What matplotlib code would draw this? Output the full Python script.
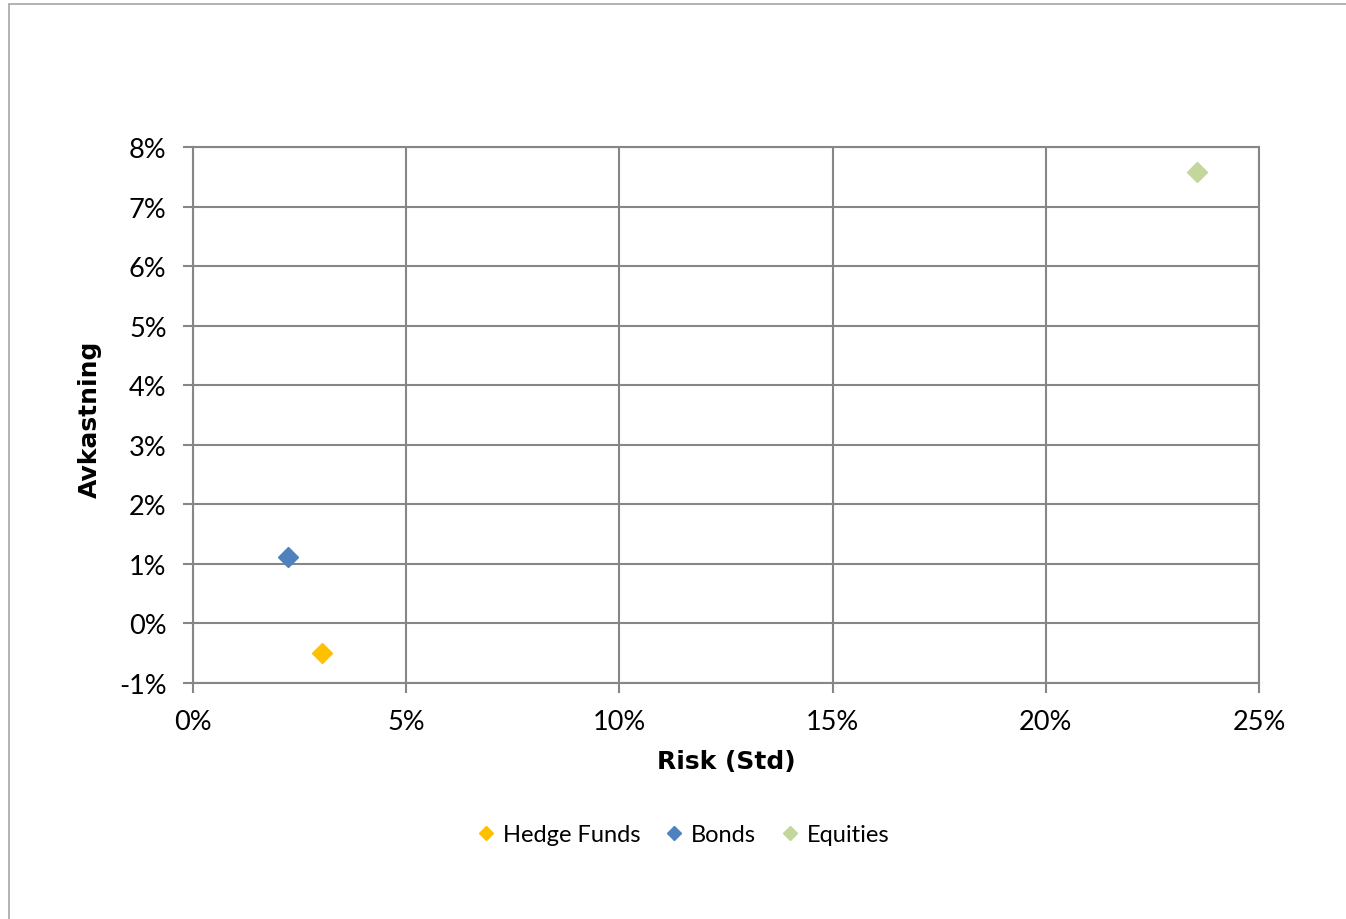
import matplotlib
matplotlib.use('Agg')
import matplotlib.pyplot as plt
from matplotlib.patches import Rectangle
from matplotlib.ticker import FuncFormatter, MultipleLocator

# risk / return per asset class (percent)
names = ['Hedge Funds', 'Bonds', 'Equities']
risk = [3.03, 2.23, 23.55]
ret = [-0.50, 1.12, 7.58]
colors = ['#FFC000', '#4F81BD', '#C3D69B']

plt.rcParams['font.family'] = ['Lato', 'DejaVu Sans']

W, H = 1346, 920
fig = plt.figure(figsize=(W / 100, H / 100), dpi=100)
# outer chart frame
fig.patches.append(Rectangle((9 / W, -0.1), 1.2, 1 - 5 / H + 0.1,
                             transform=fig.transFigure, fill=False,
                             edgecolor='#A6A6A6', linewidth=1.2))

ax = fig.add_axes([193 / W, 1 - 684 / H, (1259 - 193) / W, (684 - 148) / H])

for n, x, y, c in zip(names, risk, ret, colors):
    ax.plot([x], [y], linestyle='none', marker='D', markersize=10.5,
            color=c, label=n, zorder=3)

ax.set_xlim(0, 25)
ax.set_ylim(-1, 8)
ax.xaxis.set_major_locator(MultipleLocator(5))
ax.yaxis.set_major_locator(MultipleLocator(1))
pct = FuncFormatter(lambda v, p: f'{v:.0f}%')
ax.xaxis.set_major_formatter(pct)
ax.yaxis.set_major_formatter(pct)

ax.grid(True, color='#868686', linewidth=1.5)
ax.set_axisbelow(True)
for s in ax.spines.values():
    s.set_color('#868686')
    s.set_linewidth(1.5)
ax.tick_params(direction='out', length=7, width=1.5, color='#868686',
               labelsize=19.5, pad=12)

# axis titles
fig.text(726 / W, 1 - 762 / H, 'Risk (Std)', family='DejaVu Sans',
         fontsize=18, fontweight='bold', ha='center', va='center')
fig.text(90 / W, 1 - 419 / H, 'Avkastning', family='DejaVu Sans',
         fontsize=18, fontweight='bold', ha='center', va='center', rotation=90)

fig.legend(loc='center', bbox_to_anchor=(683 / W, 1 - 836 / H), ncol=3,
           frameon=False, fontsize=17, markerscale=0.65, handlelength=0.8,
           handletextpad=0.3, columnspacing=1.05)

fig.savefig('out.png', dpi=100)
